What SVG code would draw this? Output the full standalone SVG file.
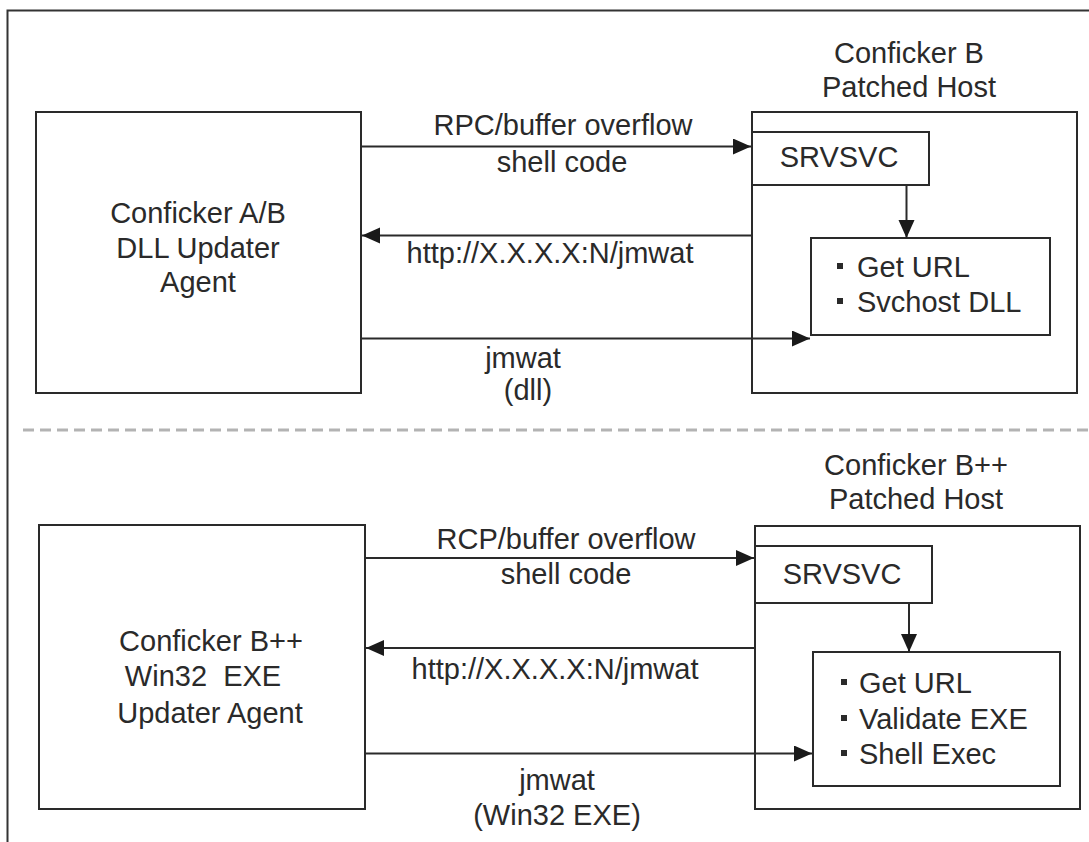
<svg xmlns="http://www.w3.org/2000/svg" width="1089" height="842" viewBox="0 0 1089 842">
<style>
text{font-family:"Liberation Sans",Arial,sans-serif;font-size:29px;fill:#2a2a2a;text-anchor:middle}
.box{fill:none;stroke:#2a2a2a;stroke-width:2}
.ln{stroke:#2a2a2a;stroke-width:2;fill:none;marker-end:url(#ah)}
.st{text-anchor:start}
.bul{fill:#2a2a2a}
</style>
<defs>
<marker id="ah" markerUnits="userSpaceOnUse" markerWidth="20" markerHeight="18" refX="18" refY="8" orient="auto">
<path d="M0,0 L18,8 L0,16 Z" fill="#1a1a1a"/>
</marker>
</defs>
<rect width="1089" height="842" fill="#ffffff"/>
<g id="frame">
<path d="M7.5,842 V10.5 H1089" fill="none" stroke="#333" stroke-width="2"/>
<line x1="23" y1="430" x2="1089" y2="430" stroke="#b3b3b3" stroke-width="3" stroke-dasharray="11 6"/>
</g>
<g id="agentAB">
<rect class="box" x="36" y="112" width="325" height="281"/>
<text x="198" y="223">Conficker A/B</text>
<text x="198" y="258">DLL Updater</text>
<text x="198" y="292">Agent</text>
</g>
<g id="hostB">
<rect class="box" x="752" y="112" width="325" height="281"/>
<text x="909" y="63">Conficker B</text>
<text x="909" y="97">Patched Host</text>
</g>
<g id="srvsvcB">
<rect class="box" x="752" y="132" width="177" height="53"/>
<text x="839" y="167">SRVSVC</text>
</g>
<g id="stepsB">
<rect class="box" x="811" y="238" width="239" height="97"/>
<rect class="bul" x="837" y="263" width="6" height="6"/>
<text class="st" x="857" y="277">Get URL</text>
<rect class="bul" x="837" y="298" width="6" height="6"/>
<text class="st" x="857" y="312">Svchost DLL</text>
</g>
<g id="agentBpp">
<rect class="box" x="39" y="525" width="326" height="284"/>
<text x="211" y="651">Conficker B++</text>
<text x="203" y="686" xml:space="preserve">Win32  EXE</text>
<text x="210" y="723">Updater Agent</text>
</g>
<g id="hostBpp">
<rect class="box" x="755" y="526" width="325" height="283"/>
<text x="916" y="475">Conficker B++</text>
<text x="916" y="509">Patched Host</text>
</g>
<g id="srvsvcBpp">
<rect class="box" x="755" y="546" width="177" height="57"/>
<text x="842" y="584">SRVSVC</text>
</g>
<g id="stepsBpp">
<rect class="box" x="813" y="652" width="247" height="134"/>
<rect class="bul" x="841" y="679" width="6" height="6"/>
<text class="st" x="859" y="693">Get URL</text>
<rect class="bul" x="841" y="715" width="6" height="6"/>
<text class="st" x="859" y="729">Validate EXE</text>
<rect class="bul" x="841" y="750" width="6" height="6"/>
<text class="st" x="859" y="764">Shell Exec</text>
</g>
<g id="connectors">
<line class="ln" x1="361" y1="146.5" x2="751" y2="146.5"/>
<line class="ln" x1="752" y1="235.5" x2="362" y2="235.5"/>
<line class="ln" x1="361" y1="338.5" x2="810" y2="338.5"/>
<line class="ln" x1="906.5" y1="185" x2="906.5" y2="238"/>
<line class="ln" x1="365" y1="558" x2="754" y2="558"/>
<line class="ln" x1="755" y1="648" x2="366" y2="648"/>
<line class="ln" x1="365" y1="753.5" x2="812" y2="753.5"/>
<line class="ln" x1="909" y1="603" x2="909" y2="652"/>
<text x="563" y="135">RPC/buffer overflow</text>
<text x="562" y="172">shell code</text>
<text x="550" y="263">http://X.X.X.X:N/jmwat</text>
<text x="523" y="368">jmwat</text>
<text x="528" y="400">(dll)</text>
<text x="566" y="549">RCP/buffer overflow</text>
<text x="566" y="584">shell code</text>
<text x="555" y="679">http://X.X.X.X:N/jmwat</text>
<text x="557" y="790">jmwat</text>
<text x="557" y="825">(Win32 EXE)</text>
</g>
</svg>
